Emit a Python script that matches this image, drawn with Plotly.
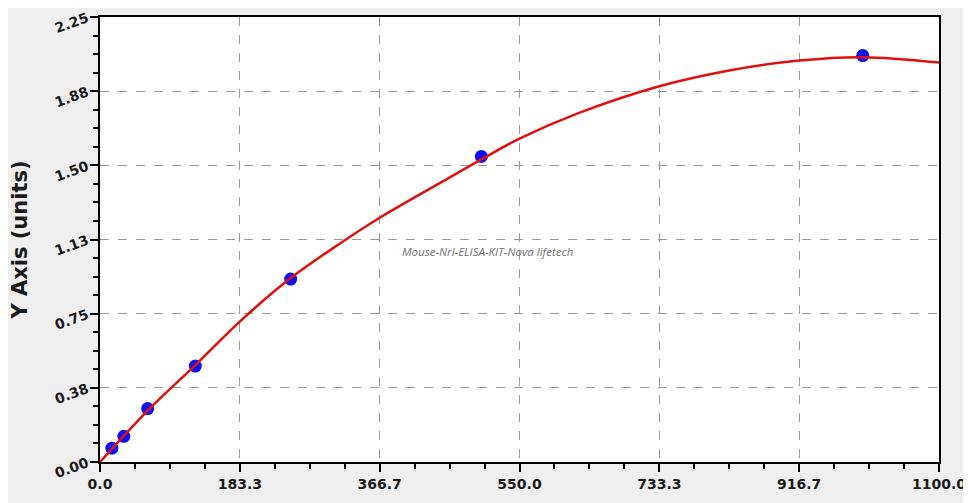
import plotly.graph_objects as go

# Standard points
std_conc = [15.6, 31.25, 62.5, 125, 250, 500, 1000]
std_od = [0.07, 0.13, 0.27, 0.485, 0.925, 1.545, 2.055]

# Fitted curve
curve_x = [0, 62.5, 125, 183.3, 250, 314.7, 366.7, 450, 500, 550, 628, 733.3, 825, 916.7, 1000, 1100]
curve_y = [0.0, 0.26, 0.49, 0.71, 0.93, 1.105, 1.235, 1.42, 1.53, 1.635, 1.765, 1.90, 1.98, 2.03, 2.047, 2.02]

x_tickvals = [0, 183.333, 366.667, 550, 733.333, 916.667, 1100]
x_ticktext = ["0.0", "183.3", "366.7", "550.0", "733.3", "916.7", "1100.0"]
y_tickvals = [0, 0.375, 0.75, 1.125, 1.5, 1.875, 2.25]
y_ticktext = ["0.00", "0.38", "0.75", "1.13", "1.50", "1.88", "2.25"]

fig = go.Figure()
fig.add_trace(go.Scatter(x=std_conc, y=std_od, mode="markers",
                         marker=dict(color="#1010f0", size=13), showlegend=False))
fig.add_trace(go.Scatter(x=curve_x, y=curve_y, mode="lines",
                         line=dict(color="#e01010", width=2.5, shape="spline", smoothing=1.0),
                         showlegend=False))

tickfont = dict(family="DejaVu Sans", size=14, color="#1a1a1a", weight="bold")
fig.update_layout(
    width=963, height=495,
    paper_bgcolor="#efefef", plot_bgcolor="white",
    margin=dict(l=92, r=32, t=9, b=41),
    xaxis=dict(range=[0, 1100], tickmode="array", tickvals=x_tickvals, ticktext=x_ticktext,
               showgrid=True, gridcolor="#999", griddash="dash", gridwidth=1,
               showline=True, linecolor="black", linewidth=2, mirror=True,
               ticks="outside", ticklen=8, tickcolor="black", tickwidth=2,
               minor=dict(ticks="outside", ticklen=5, tickcolor="black", tickwidth=2,
                          tick0=0, dtick=1100/24, showgrid=False),
               tickfont=tickfont, zeroline=False, automargin=False),
    yaxis=dict(range=[0, 2.25], tickmode="array", tickvals=y_tickvals, ticktext=y_ticktext,
               showgrid=True, gridcolor="#999", griddash="dash", gridwidth=1,
               showline=True, linecolor="black", linewidth=2, mirror=True,
               ticks="outside", ticklen=8, tickcolor="black", tickwidth=2,
               minor=dict(ticks="outside", ticklen=5, tickcolor="black", tickwidth=2,
                          tick0=0, dtick=0.09375, showgrid=False),
               tickfont=tickfont, tickangle=-20, zeroline=False, automargin=False,
               title=dict(text="Y Axis (units)",
                          font=dict(family="DejaVu Sans", size=21, color="#1a1a1a", weight="bold"),
                          standoff=20)),
    annotations=[dict(text="Mouse-Nrl-ELISA-KIT-Nova lifetech", xref="paper", yref="paper",
                      x=0.3576, y=0.474, xanchor="left", yanchor="middle", showarrow=False,
                      font=dict(family="Open Sans", size=11.5, color="#707070", style="italic"))],
)

fig.write_html("out.html")
